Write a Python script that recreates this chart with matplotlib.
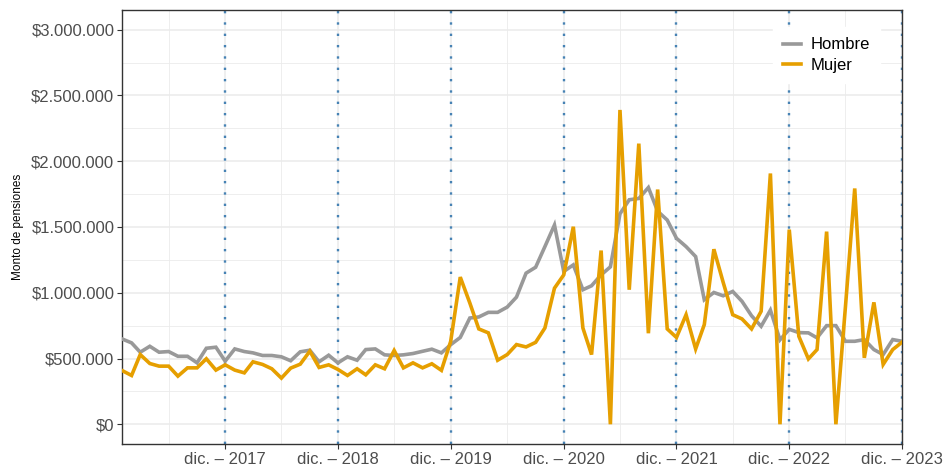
import matplotlib
matplotlib.use("Agg")
import matplotlib.pyplot as plt
import pandas as pd
import numpy as np

plt.rcParams['font.family'] = ['Liberation Sans', 'DejaVu Sans']

fechas = pd.date_range('2017-01-01', periods=84, freq='MS')

hombre = [649, 619, 548, 593, 548, 553, 517, 517, 467, 578, 586, 480,
          573, 553, 543, 523, 523, 513, 483, 551, 563, 475, 525, 467,
          513, 487, 568, 573, 528, 523, 528, 538, 555, 571, 543, 605,
          660, 808, 816, 851, 851, 891, 967, 1149, 1194, 1351, 1515, 1162,
          1212, 1023, 1053, 1136, 1197, 1600, 1707, 1717, 1800, 1620, 1553, 1414,
          1351, 1275, 947, 1002, 977, 1010, 935, 825, 745, 868, 642, 722,
          697, 695, 657, 750, 750, 631, 631, 644, 568, 530, 644, 631]
mujer = [409, 371, 530, 462, 442, 442, 366, 429, 429, 498, 412, 452,
         412, 391, 475, 455, 422, 351, 427, 457, 556, 432, 452, 417,
         371, 422, 376, 452, 422, 561, 429, 467, 429, 460, 410, 630,
         1119, 922, 725, 695, 487, 530, 606, 588, 623, 732, 1035, 1136,
         1502, 732, 530, 1321, 0, 2390, 1023, 2134, 692, 1785, 725, 660,
         833, 573, 758, 1331, 1080, 833, 801, 725, 859, 1907, 0, 1480,
         669, 497, 568, 1465, 0, 896, 1793, 505, 927, 455, 568, 624]
hombre = np.array(hombre) * 1000
mujer = np.array(mujer) * 1000

cortes = pd.date_range('2017-12-01', periods=7, freq='12MS')
etiquetas_x = ['dic. – 2017', 'dic. – 2018', 'dic. – 2019', 'dic. – 2020',
               'dic. – 2021', 'dic. – 2022', 'dic. – 2023']
menores = pd.date_range('2017-06-01', periods=7, freq='12MS')
y_ticks = [0, 500000, 1000000, 1500000, 2000000, 2500000, 3000000]
y_labels = ['$0', '$500.000', '$1.000.000', '$1.500.000', '$2.000.000',
            '$2.500.000', '$3.000.000']

fig = plt.figure(figsize=(9.48, 4.71), dpi=100)
ax = fig.add_axes([122/948, 1-444/471, (902-122)/948, (444-10)/471])

# grid
for y in np.arange(-250000, 3250001, 250000):
    ax.axhline(y, color='#EBEBEB', lw=1.1 if y % 500000 == 0 else 0.6, zorder=0)
for d in menores:
    ax.axvline(d, color='#EBEBEB', lw=0.6, zorder=0)
for d in cortes:
    ax.axvline(d, color='#EBEBEB', lw=1.1, zorder=0)
    ax.axvline(d, color='#4682B4', lw=1.7, linestyle=(0, (1.0, 3.8)), zorder=1)

ax.plot(fechas, hombre, color='#999999', lw=2.6, label='Hombre', zorder=3,
        solid_joinstyle='miter')
ax.plot(fechas, mujer, color='#E69F00', lw=2.6, label='Mujer', zorder=4,
        solid_joinstyle='miter')

ax.set_xlim(fechas[0], fechas[-1])
ax.set_ylim(-150000, 3150000)
ax.set_xticks(cortes)
ax.set_xticklabels(etiquetas_x)
ax.set_yticks(y_ticks)
ax.set_yticklabels(y_labels)
ax.tick_params(axis='both', colors='#333333', length=3.5, width=0.8,
               labelsize=12, labelcolor='#4D4D4D', pad=2)
for s in ax.spines.values():
    s.set_color('#333333')
    s.set_linewidth(1.0)
ax.set_ylabel('Monto de pensiones', fontsize=8.5, color='black', labelpad=5)

leg = ax.legend(loc='upper right', bbox_to_anchor=(0.983, 0.979), fontsize=12,
                frameon=True, fancybox=False, handlelength=1.1, handletextpad=0.6,
                labelspacing=0.35, borderpad=0.6)
leg.get_frame().set_facecolor('white')
leg.get_frame().set_edgecolor('white')
leg.get_frame().set_alpha(1.0)
leg.set_zorder(10)

fig.savefig('out.png', dpi=100)
